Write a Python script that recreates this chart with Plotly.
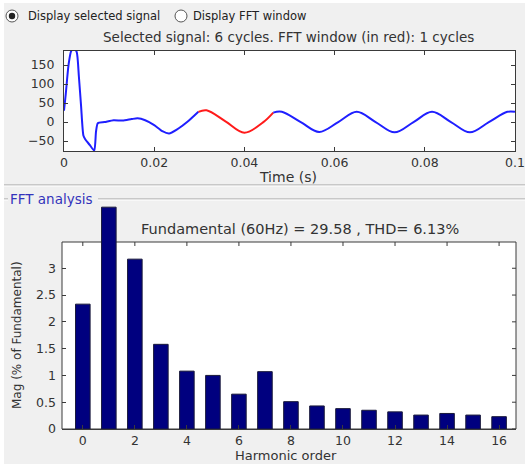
import plotly.graph_objects as go

# ---------------- data ----------------
# selected signal (time in s, value)
t_sig_a = [0.0, 0.0004, 0.0010, 0.0016, 0.0022, 0.0028, 0.0033, 0.0038, 0.0043, 0.0047,
           0.0057, 0.0067, 0.0071, 0.0075, 0.0090, 0.0110, 0.0130, 0.0150, 0.0163,
           0.0180, 0.0200, 0.0218, 0.0233, 0.0250, 0.0275, 0.0298]
v_sig_a = [30, 75, 150, 187, 192, 185, 120, 40, -35, -45,
           -60, -75, -25, -3, 0, 5, 4, 8, 10,
           5, -8, -24, -30, -20, 2, 27]
t_sig_red = [0.0298, 0.0316, 0.0358, 0.0400, 0.0442, 0.0464]
v_sig_red = [27, 31, 2, -28, 0, 25]
t_sig_b = [0.0464, 0.0483, 0.0525, 0.0566, 0.0608, 0.0649, 0.0691, 0.0733, 0.0775,
           0.0816, 0.0858, 0.0900, 0.0942, 0.0983, 0.1000]
v_sig_b = [25, 27, 0, -26, 0, 27, 0, -27, 0,
           27, 0, -27, 0, 27, 27]

# FFT analysis
harmonic_order = list(range(17))
magnitude = [2.33, 4.14, 3.17, 1.58, 1.08, 1.00, 0.65, 1.07, 0.51,
             0.43, 0.38, 0.35, 0.32, 0.26, 0.29, 0.26, 0.23]

top_xticks = [0, 0.02, 0.04, 0.06, 0.08, 0.1]
top_xtext = ["0", "0.02", "0.04", "0.06", "0.08", "0.1"]
top_yticks = [-50, 0, 50, 100, 150]
bot_xticks = [0, 2, 4, 6, 8, 10, 12, 14, 16]
bot_yticks = [0, 0.5, 1, 1.5, 2, 2.5, 3]
bot_ytop = 3.49   # top of the FFT axes box

title_top = "Selected signal: 6 cycles. FFT window (in red): 1 cycles"
title_bot = "Fundamental (60Hz) = 29.58 , THD= 6.13%"

# ---------------- figure ----------------
W, H = 525, 464
def px(x):
    return x / W
def py(y):
    return 1 - y / H

FONT = "DejaVu Sans, Verdana, sans-serif"
BLUE = "#1f1fff"
RED = "#ff1a1a"
AX = "#3a3a3a"
TXT = "#333333"

fig = go.Figure()
fig.add_trace(go.Scatter(x=t_sig_a, y=v_sig_a, mode="lines",
                         line=dict(color=BLUE, width=2, shape="spline", smoothing=0.6),
                         xaxis="x", yaxis="y", showlegend=False))
fig.add_trace(go.Scatter(x=t_sig_red, y=v_sig_red, mode="lines",
                         line=dict(color=RED, width=2, shape="spline", smoothing=1),
                         xaxis="x", yaxis="y", showlegend=False))
fig.add_trace(go.Scatter(x=t_sig_b, y=v_sig_b, mode="lines",
                         line=dict(color=BLUE, width=2, shape="spline", smoothing=1),
                         xaxis="x", yaxis="y", showlegend=False))
fig.add_trace(go.Bar(x=harmonic_order, y=magnitude, width=0.56,
                     marker=dict(color="#00007f", line=dict(color="#1a1a3a", width=1)),
                     cliponaxis=False, xaxis="x2", yaxis="y2", showlegend=False))

tickfont = dict(family=FONT, size=12.5, color=TXT)
base = dict(showgrid=False, zeroline=False, automargin=False, linecolor=AX, linewidth=1,
            ticks="inside", ticklen=4, tickcolor=AX, tickfont=tickfont)

# FFT y-axis: pixel scale fixed so that 0..3.49 fills the box (242..429 px);
# the domain extends higher so the tall bar can overflow the box
bot_top_px = 200
bot_range_top = bot_ytop * (429 - bot_top_px) / (429 - 242)

fig.update_layout(
    width=W, height=H, autosize=False,
    margin=dict(l=0, r=0, t=0, b=0),
    paper_bgcolor="white", plot_bgcolor="rgba(0,0,0,0)",
    font=dict(family=FONT, color=TXT),
    xaxis=dict(domain=[px(64), px(515)], range=[0, 0.1], tickvals=top_xticks,
               ticktext=top_xtext, anchor="y", showline=True, mirror="ticks", **base),
    yaxis=dict(domain=[py(151), py(51)], range=[-76, 187], tickvals=top_yticks,
               anchor="x", showline=True, mirror="ticks", ticklabelstandoff=6, **base),
    xaxis2=dict(domain=[px(62), px(516)], range=[-0.8, 16.65], tickvals=bot_xticks,
                anchor="y2", showline=True, mirror=False, **base),
    yaxis2=dict(domain=[py(429), py(bot_top_px)], range=[0, bot_range_top],
                tickvals=bot_yticks, anchor="x2", showline=False, ticklabelstandoff=5, **base),
)

shapes = []
# gray GUI background
shapes.append(dict(type="rect", xref="paper", yref="paper", x0=px(4), x1=1, y0=0, y1=py(3),
                   fillcolor="#f0f0f0", line=dict(width=0), layer="below"))
# etched separators
for (xa, xb, y) in [(4, 525, 185), (4, 8, 199), (98, 525, 199)]:
    shapes.append(dict(type="line", xref="paper", yref="paper", x0=px(xa), x1=px(xb),
                       y0=py(y), y1=py(y), line=dict(color="#a0a0a0", width=1), layer="below"))
    shapes.append(dict(type="line", xref="paper", yref="paper", x0=px(xa), x1=px(xb),
                       y0=py(y + 1), y1=py(y + 1), line=dict(color="#ffffff", width=1), layer="below"))
# radio buttons
for cx in [12, 181]:
    shapes.append(dict(type="circle", xref="paper", yref="paper",
                       x0=px(cx - 6), x1=px(cx + 6), y0=py(16 + 6), y1=py(16 - 6),
                       fillcolor="white", line=dict(color="#555555", width=1)))
shapes.append(dict(type="circle", xref="paper", yref="paper",
                   x0=px(12 - 3.2), x1=px(12 + 3.2), y0=py(16 + 3.2), y1=py(16 - 3.2),
                   fillcolor="#222222", line=dict(width=0)))
# white plot backgrounds
shapes.append(dict(type="rect", xref="x domain", yref="y domain", x0=0, x1=1, y0=0, y1=1,
                   fillcolor="white", line=dict(width=0), layer="below"))
shapes.append(dict(type="rect", xref="x2 domain", yref="y2", x0=0, x1=1, y0=0, y1=bot_ytop,
                   fillcolor="white", line=dict(color=AX, width=1), layer="below"))
# mirrored ticks of the FFT box (right side and top)
tick_dx = 4 / (516 - 62)
tick_dy = 4 * bot_ytop / (429 - 242)
for v in bot_yticks:
    shapes.append(dict(type="line", xref="x2 domain", yref="y2", x0=1 - tick_dx, x1=1,
                       y0=v, y1=v, line=dict(color=AX, width=1), layer="below"))
for v in bot_xticks:
    shapes.append(dict(type="line", xref="x2", yref="y2", x0=v, x1=v,
                       y0=bot_ytop - tick_dy, y1=bot_ytop, line=dict(color=AX, width=1),
                       layer="below"))
fig.update_layout(shapes=shapes)

ann = []
def text(x, y, s, size, color=TXT, xanchor="center", angle=0):
    ann.append(dict(xref="paper", yref="paper", x=px(x), y=py(y), text=s, showarrow=False,
                    xanchor=xanchor, yanchor="middle", textangle=angle,
                    font=dict(family=FONT, size=size, color=color)))

text(26, 16, "Display selected signal", 11.5, "#222222", xanchor="left")
text(191, 16, "Display FFT window", 11.5, "#222222", xanchor="left")
text(288, 37, title_top, 13.5)
text(288, 177, "Time (s)", 14)
text(8, 199, "FFT analysis", 13.5, "#3333bb", xanchor="left")
text(300, 229, title_bot, 14.5)
text(286, 455, "Harmonic order", 13)
text(17, 335, "Mag (% of Fundamental)", 12, angle=-90)
fig.update_layout(annotations=ann)

fig.write_html("out.html", config={"displayModeBar": False},
               post_script="document.body.style.margin='0';document.body.style.padding='0';")
